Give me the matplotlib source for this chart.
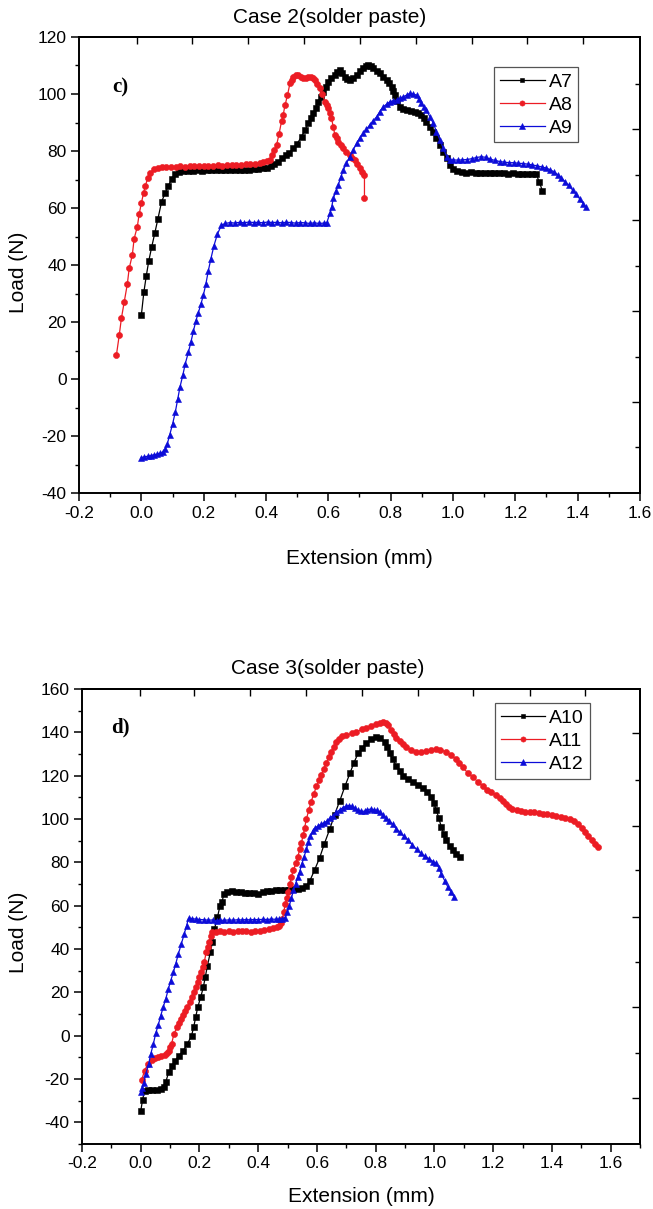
import matplotlib
matplotlib.use("Agg")
import matplotlib.pyplot as plt
from matplotlib.ticker import MultipleLocator, FormatStrFormatter, NullFormatter

plt.rcParams['font.family'] = ['Liberation Sans', 'DejaVu Sans']
plt.rcParams['axes.unicode_minus'] = False

# ---------------- Case 2 data ----------------
A7_x = [0.000, 0.008, 0.016, 0.024, 0.033, 0.043, 0.053, 0.065, 0.077, 0.087,
        0.097, 0.107, 0.120, 0.135, 0.150, 0.165, 0.180, 0.195, 0.210, 0.225,
        0.240, 0.255, 0.270, 0.285, 0.300, 0.315, 0.330, 0.345, 0.360, 0.375,
        0.390, 0.403, 0.415, 0.427, 0.440, 0.452, 0.463, 0.475, 0.488, 0.500,
        0.514, 0.525, 0.536, 0.544, 0.552, 0.560, 0.568, 0.576, 0.584, 0.592,
        0.600, 0.610, 0.621, 0.629, 0.637, 0.645, 0.653, 0.661, 0.669, 0.680,
        0.691, 0.701, 0.712, 0.720, 0.728, 0.736, 0.744, 0.755, 0.766, 0.776,
        0.787, 0.795, 0.803, 0.809, 0.814, 0.822, 0.830, 0.840, 0.851, 0.865,
        0.878, 0.889, 0.899, 0.907, 0.915, 0.926, 0.937, 0.947, 0.958, 0.969,
        0.980, 0.990, 1.000, 1.013, 1.028, 1.043, 1.058, 1.073, 1.088, 1.103,
        1.118, 1.133, 1.148, 1.163, 1.178, 1.193, 1.208, 1.223, 1.238, 1.253,
        1.267, 1.277, 1.287]
A7_y = [22.4, 30.4, 36.3, 41.5, 46.2, 51.1, 56.1, 62.2, 65.4, 67.8,
        70.1, 71.8, 72.7, 73.0, 73.1, 73.0, 73.2, 73.1, 73.3, 73.2,
        73.4, 73.2, 73.5, 73.3, 73.4, 73.3, 73.5, 73.4, 73.6, 73.7,
        73.9, 74.2, 74.6, 75.3, 76.3, 77.5, 78.5, 79.4, 80.9, 82.6,
        85.0, 87.3, 89.7, 91.5, 93.2, 95.2, 97.3, 99.0, 100.8, 102.6,
        104.3, 105.6, 106.7, 107.6, 108.4, 107.5, 106.1, 105.4, 104.9, 105.6,
        106.7, 107.9, 109.0, 109.7, 110.2, 109.7, 109.0, 108.2, 107.3, 106.1,
        104.9, 103.8, 102.6, 101.1, 99.6, 97.5, 95.5, 94.9, 94.4, 94.1,
        93.8, 93.3, 92.6, 91.5, 90.3, 88.5, 86.8, 84.5, 82.1, 79.8,
        77.4, 75.1, 73.8, 73.0, 72.6, 72.4, 72.5, 72.3, 72.4, 72.2,
        72.4, 72.3, 72.2, 72.3, 72.1, 72.2, 72.0, 72.1, 71.9, 71.8,
        71.8, 69.2, 66.0]

A8_x = [-0.080, -0.071, -0.064, -0.055, -0.045, -0.039, -0.029, -0.023, -0.013, -0.007,
        0.000, 0.007, 0.013, 0.020, 0.029, 0.040, 0.052, 0.065, 0.080, 0.095,
        0.110, 0.125, 0.140, 0.155, 0.170, 0.185, 0.200, 0.215, 0.230, 0.245,
        0.260, 0.275, 0.290, 0.305, 0.320, 0.335, 0.350, 0.365, 0.380, 0.392,
        0.403, 0.413, 0.420, 0.427, 0.434, 0.442, 0.450, 0.455, 0.461, 0.469,
        0.477, 0.483, 0.488, 0.496, 0.504, 0.512, 0.520, 0.528, 0.536, 0.546,
        0.552, 0.557, 0.565, 0.573, 0.581, 0.589, 0.595, 0.600, 0.605, 0.610,
        0.616, 0.621, 0.627, 0.632, 0.640, 0.648, 0.658, 0.669, 0.677, 0.685,
        0.693, 0.701, 0.709, 0.716, 0.716]
A8_y = [8.4, 15.3, 21.3, 27.0, 33.3, 38.8, 43.5, 49.3, 53.4, 57.8,
        61.7, 65.2, 67.8, 70.4, 72.4, 73.6, 74.2, 74.3, 74.4, 74.5,
        74.4, 74.6, 74.5, 74.7, 74.6, 74.8, 74.7, 74.9, 74.8, 75.0,
        74.9, 75.1, 75.0, 75.2, 75.1, 75.3, 75.3, 75.5, 75.8, 76.2,
        76.6, 76.8, 78.5, 80.3, 82.1, 86.0, 90.5, 92.6, 96.0, 99.6,
        103.8, 105.0, 106.1, 106.6, 106.7, 106.0, 105.5, 105.6, 106.0, 106.1,
        105.6, 105.0, 103.5, 102.0, 100.0, 97.3, 96.0, 95.0, 93.2, 91.5,
        88.5, 85.6, 84.4, 83.3, 82.1, 80.9, 79.7, 78.6, 77.7, 76.8,
        75.3, 73.9, 72.7, 71.6, 63.4]

A9_x = [0.000, 0.010, 0.020, 0.030, 0.040, 0.050, 0.060, 0.070, 0.077, 0.083,
        0.091, 0.100, 0.109, 0.117, 0.124, 0.133, 0.141, 0.151, 0.159, 0.167,
        0.175, 0.183, 0.191, 0.199, 0.207, 0.215, 0.223, 0.233, 0.244, 0.257,
        0.270, 0.285, 0.300, 0.315, 0.330, 0.345, 0.360, 0.375, 0.390, 0.405,
        0.420, 0.435, 0.450, 0.465, 0.480, 0.495, 0.510, 0.525, 0.540, 0.555,
        0.570, 0.585, 0.595, 0.605, 0.611, 0.616, 0.624, 0.632, 0.640, 0.648,
        0.658, 0.669, 0.680, 0.691, 0.701, 0.712, 0.722, 0.733, 0.744, 0.755,
        0.765, 0.776, 0.787, 0.798, 0.809, 0.819, 0.830, 0.840, 0.851, 0.862,
        0.872, 0.883, 0.891, 0.899, 0.907, 0.915, 0.926, 0.937, 0.947, 0.958,
        0.969, 0.980, 0.990,
        1.000, 1.015, 1.030, 1.045, 1.060, 1.075, 1.090, 1.105, 1.120, 1.135,
        1.150, 1.165, 1.180, 1.195, 1.210, 1.225, 1.240, 1.255, 1.270, 1.285,
        1.300, 1.312, 1.324, 1.336, 1.348, 1.360, 1.372, 1.384, 1.396, 1.408,
        1.418, 1.427]
A9_y = [-27.6, -27.3, -27.1, -26.9, -26.6, -26.4, -26.0, -25.6, -24.5, -22.9,
        -19.6, -15.9, -11.6, -6.9, -2.8, 1.3, 5.4, 9.4, 12.9, 16.8,
        20.4, 23.3, 26.2, 29.4, 33.3, 38.0, 42.1, 46.8, 50.8, 54.0,
        54.6, 54.9, 54.7, 55.0, 54.8, 55.1, 54.9, 55.0, 54.8, 55.1,
        54.9, 55.0, 54.8, 55.0, 54.9, 54.7, 54.9, 54.8, 54.6, 54.8,
        54.6, 54.7, 54.8, 58.1, 60.5, 63.4, 65.8, 68.1, 70.8, 73.3,
        75.7, 78.0, 80.4, 82.7, 84.5, 86.2, 87.6, 89.1, 90.6, 92.0,
        93.8, 95.5, 96.4, 97.3, 97.6, 97.9, 98.5, 99.0, 99.6, 100.2,
        100.0, 99.6, 98.2, 96.7, 95.5, 94.4, 92.0, 89.7, 86.8, 83.9,
        81.0, 78.0, 76.8,
        76.9, 76.8, 76.9, 77.0, 77.3, 77.7, 78.0, 77.8, 77.1, 76.7,
        76.3, 76.1, 75.9, 75.9, 75.7, 75.6, 75.4, 75.1, 74.8, 74.4,
        74.0, 73.4, 72.7, 71.7, 70.6, 69.2, 67.9, 66.3, 64.8, 63.0,
        61.5, 60.2]

# ---------------- Case 3 data ----------------
A10_x = [0.000, 0.006, 0.013, 0.025, 0.040, 0.055, 0.068, 0.078, 0.085, 0.095,
         0.106, 0.116, 0.130, 0.145, 0.159, 0.173, 0.180, 0.187, 0.194, 0.204,
         0.213, 0.220, 0.227, 0.237, 0.244, 0.251, 0.261, 0.270, 0.277, 0.283,
         0.295, 0.310, 0.325, 0.340, 0.355, 0.370, 0.385, 0.400, 0.415, 0.430,
         0.445, 0.460, 0.475, 0.490, 0.505, 0.520, 0.535, 0.550, 0.563, 0.576,
         0.592, 0.609, 0.625, 0.644, 0.660, 0.678, 0.695, 0.712, 0.726, 0.740,
         0.755, 0.768, 0.785, 0.802, 0.815, 0.831, 0.840, 0.848, 0.858, 0.870,
         0.882, 0.893, 0.910, 0.927, 0.944, 0.961, 0.975, 0.989, 0.998, 1.006,
         1.015, 1.023, 1.032, 1.040, 1.052, 1.063, 1.075, 1.086]
A10_y = [-34.9, -29.7, -25.4, -25.0, -24.9, -25.0, -24.7, -23.5, -21.5, -16.9,
         -14.2, -11.8, -9.2, -6.9, -3.8, 0.0, 3.8, 8.5, 13.1, 17.7,
         22.3, 27.2, 32.3, 38.5, 43.1, 49.2, 54.6, 60.0, 61.8, 65.5,
         66.3, 66.6, 66.2, 66.4, 65.9, 65.7, 66.0, 65.5, 66.1, 66.6,
         66.9, 67.0, 67.1, 67.3, 67.2, 67.5, 67.6, 68.0, 69.0, 71.5,
         76.5, 82.0, 88.5, 95.5, 102.0, 108.5, 115.0, 121.0, 126.0, 130.3,
         133.0, 135.0, 136.8, 138.0, 137.2, 135.7, 133.4, 130.5, 127.5, 124.5,
         122.0, 120.0, 118.3, 117.2, 115.8, 114.1, 112.5, 110.3, 107.5, 104.1,
         100.5, 96.4, 93.2, 90.3, 87.5, 85.6, 83.8, 82.5]

A11_x = [0.003, 0.013, 0.024, 0.038, 0.050, 0.060, 0.070, 0.081, 0.090, 0.095,
         0.100, 0.105, 0.113, 0.123, 0.130, 0.138, 0.145, 0.152, 0.159, 0.166,
         0.173, 0.180, 0.187, 0.194, 0.200, 0.206, 0.211, 0.216, 0.223, 0.228,
         0.233, 0.238, 0.243, 0.255, 0.270, 0.285, 0.300, 0.315, 0.330, 0.345,
         0.360, 0.375, 0.390, 0.405, 0.420, 0.435, 0.450, 0.463, 0.471, 0.477,
         0.482, 0.487, 0.492, 0.497, 0.502, 0.508, 0.513, 0.520, 0.528, 0.535,
         0.541, 0.547, 0.553, 0.558, 0.564, 0.572, 0.580, 0.589, 0.598, 0.606,
         0.615, 0.623, 0.632, 0.640, 0.648, 0.657, 0.666, 0.675, 0.685, 0.700,
         0.720, 0.734, 0.755, 0.768, 0.785, 0.802, 0.815, 0.826, 0.835, 0.843,
         0.852, 0.861, 0.870, 0.882, 0.893, 0.904, 0.920, 0.938, 0.955, 0.972,
         0.990, 1.006, 1.020, 1.040, 1.057, 1.074, 1.085, 1.097, 1.114, 1.131,
         1.150, 1.166, 1.180, 1.194, 1.208, 1.223, 1.234, 1.244, 1.255, 1.265,
         1.280, 1.294, 1.310, 1.325, 1.340, 1.355, 1.370, 1.385, 1.400, 1.415,
         1.430, 1.445, 1.460, 1.475, 1.490, 1.503, 1.513, 1.524, 1.535, 1.546,
         1.556]
A11_y = [-20.5, -16.2, -13.1, -11.2, -10.5, -10.0, -9.5, -8.8, -8.0, -6.9,
         -5.3, -3.8, 0.8, 3.8, 5.8, 7.7, 9.6, 11.5, 13.4, 15.4,
         17.7, 20.0, 22.3, 24.6, 26.9, 29.2, 31.5, 33.8, 38.5, 40.8,
         43.1, 45.9, 47.7, 48.0, 48.2, 47.9, 48.1, 48.0, 48.3, 48.1,
         48.2, 48.0, 48.3, 48.4, 48.6, 49.0, 49.5, 50.3, 50.8, 52.0,
         53.8, 57.0, 60.8, 63.5, 66.5, 70.0, 73.4, 76.5, 79.5, 82.5,
         86.0, 89.0, 92.5, 96.0, 100.0, 104.0, 108.0, 111.5, 115.0, 117.8,
         120.5, 123.2, 126.0, 128.5, 131.0, 133.3, 135.5, 137.0, 138.2, 138.8,
         139.5, 140.3, 141.5, 142.2, 143.0, 143.8, 144.2, 144.9, 144.4, 143.2,
         141.0, 139.3, 137.4, 135.8, 134.4, 133.4, 132.0, 131.0, 130.8, 131.2,
         131.8, 132.4, 132.0, 131.0, 129.5, 127.5, 125.8, 123.8, 121.2, 119.2,
         117.0, 115.0, 113.6, 112.4, 111.2, 109.8, 108.2, 106.8, 105.6, 104.8,
         104.0, 103.6, 103.4, 103.2, 103.0, 102.8, 102.4, 102.2, 101.8, 101.4,
         100.9, 100.4, 99.9, 99.0, 97.9, 96.0, 94.2, 92.2, 90.3, 88.5,
         87.2]

A12_x = [0.000, 0.005, 0.010, 0.017, 0.027, 0.034, 0.043, 0.051, 0.060, 0.068,
         0.077, 0.085, 0.094, 0.102, 0.111, 0.119, 0.128, 0.138, 0.148, 0.156,
         0.163, 0.175, 0.187, 0.200, 0.215, 0.230, 0.245, 0.258, 0.270, 0.285,
         0.300, 0.315, 0.330, 0.345, 0.360, 0.372, 0.385, 0.400, 0.415, 0.430,
         0.445, 0.460, 0.471, 0.482, 0.492, 0.499, 0.506, 0.513, 0.520, 0.527,
         0.534, 0.541, 0.548, 0.556, 0.564, 0.571, 0.578, 0.586, 0.593, 0.603,
         0.613, 0.623, 0.634, 0.645, 0.655, 0.666, 0.677, 0.688, 0.698, 0.708,
         0.719, 0.730, 0.740, 0.750, 0.762, 0.772, 0.783, 0.794, 0.804, 0.815,
         0.826, 0.836, 0.846, 0.858, 0.870, 0.882, 0.895, 0.911, 0.925, 0.939,
         0.953, 0.967, 0.982, 0.996, 1.006, 1.015, 1.024, 1.035, 1.045, 1.056,
         1.067]
A12_y = [-26.2, -24.0, -22.0, -17.7, -13.1, -8.5, -3.8, 1.1, 5.1, 9.2,
         13.4, 16.9, 21.5, 25.4, 29.2, 33.1, 37.7, 42.3, 46.9, 50.8,
         54.2, 54.0, 53.8, 53.6, 53.5, 53.3, 53.4, 53.1, 53.2, 53.3,
         53.4, 53.3, 53.5, 53.4, 53.6, 53.4, 53.6, 53.5, 53.7, 53.6,
         53.8, 53.7, 53.8, 54.0, 54.3, 57.0, 60.0, 63.5, 67.0, 70.0,
         73.0, 75.7, 79.0, 82.5, 86.0, 89.5, 92.0, 94.5, 95.8, 96.7,
         97.5, 98.2, 99.0, 100.6, 101.6, 103.0, 104.2, 105.2, 105.8, 106.2,
         105.9, 104.9, 104.0, 103.5, 103.6, 104.3, 104.6, 104.3, 104.0, 103.0,
         101.8, 100.3, 99.2, 97.5, 95.5, 93.9, 92.2, 90.3, 88.0, 86.0,
         84.2, 82.9, 81.6, 80.3, 79.5, 77.5, 74.5, 71.5, 68.8, 66.5,
         64.0]

x_ticks = [-0.2, 0.0, 0.2, 0.4, 0.6, 0.8, 1.0, 1.2, 1.4, 1.6]

BLACK = '#000000'
RED = '#ec1c24'
BLUE = '#0c0cd8'


def style_axes(ax, xlim, ylim, yticks, top_ticks, right_long, right_short):
    ax.set_xlim(*xlim)
    ax.set_ylim(*ylim)
    ax.set_xticks(x_ticks)
    ax.set_yticks(yticks)
    ax.xaxis.set_minor_locator(MultipleLocator(0.1))
    ax.yaxis.set_minor_locator(MultipleLocator(10))
    ax.xaxis.set_major_formatter(FormatStrFormatter('%.1f'))
    ax.yaxis.set_major_formatter(FormatStrFormatter('%d'))
    ax.tick_params(which='major', direction='out', length=6, width=1.1,
                   labelsize=12.5, top=False, right=False, pad=3)
    ax.tick_params(which='minor', direction='out', length=3, width=1.0,
                   top=False, right=False)
    for s in ax.spines.values():
        s.set_linewidth(1.4)
    sx = ax.secondary_xaxis('top')
    sx.set_xticks(top_ticks)
    sx.xaxis.set_major_formatter(NullFormatter())
    sx.tick_params(direction='in', length=5, width=1.0)
    sx.spines['top'].set_linewidth(1.4)
    sy = ax.secondary_yaxis('right')
    sy.set_yticks(right_long)
    sy.set_yticks(right_short, minor=True)
    sy.yaxis.set_major_formatter(NullFormatter())
    sy.yaxis.set_minor_formatter(NullFormatter())
    sy.tick_params(which='major', direction='in', length=6, width=1.0)
    sy.tick_params(which='minor', direction='in', length=3.5, width=1.0)
    sy.spines['right'].set_linewidth(1.4)


def plot_series(ax, x, y, color, marker, ms, label):
    ax.plot(x, y, color=color, lw=0.9, marker=marker, ms=ms,
            markeredgewidth=0.4, markeredgecolor=color, label=label)


fig = plt.figure(figsize=(6.53, 12.09), dpi=100)

# -------- top panel --------
ax1 = fig.add_axes([0.121, 0.5922, 0.859, 0.3772])
plot_series(ax1, A7_x, A7_y, BLACK, 's', 4.0, 'A7')
plot_series(ax1, A8_x, A8_y, RED, 'o', 4.4, 'A8')
plot_series(ax1, A9_x, A9_y, BLUE, '^', 4.8, 'A9')
style_axes(ax1, (-0.2, 1.6), (-40, 120), list(range(-40, 121, 20)),
           [-0.014, 0.163, 0.342, 0.522, 0.701, 0.881, 1.061, 1.237, 1.417],
           [87.6, 55.7, 23.9, -8.0],
           [103.6, 71.6, 39.8, 7.9, -23.9])
ax1.text(0.447, 1.0417, 'Case 2(solder paste)', transform=ax1.transAxes,
         ha='center', va='center', fontsize=15)
ax1.set_xlabel('Extension (mm)', fontsize=15, va='center')
ax1.xaxis.set_label_coords(0.5, -0.1425)
ax1.set_ylabel('Load (N)', fontsize=15, va='center')
ax1.yaxis.set_label_coords(-0.107, 0.485)
ax1.text(0.073, 0.89, 'c)', transform=ax1.transAxes, ha='center', va='center',
         fontsize=15, fontweight='bold', family=['Liberation Serif', 'DejaVu Serif'])
leg1 = ax1.legend(loc='upper left', bbox_to_anchor=(0.740, 0.934),
                  borderaxespad=0, fancybox=False, edgecolor='#555555',
                  framealpha=1, fontsize=14, handlelength=2.3, markerscale=0.85,
                  handletextpad=0.2, labelspacing=0.28, borderpad=0.3)
leg1.get_frame().set_linewidth(0.9)

# -------- bottom panel --------
ax2 = fig.add_axes([0.1256, 0.0538, 0.8545, 0.3763])
plot_series(ax2, A10_x, A10_y, BLACK, 's', 4.0, 'A10')
plot_series(ax2, A11_x, A11_y, RED, 'o', 4.4, 'A11')
plot_series(ax2, A12_x, A12_y, BLUE, '^', 4.8, 'A12')
style_axes(ax2, (-0.2, 1.7), (-50, 160), list(range(-40, 161, 20)),
           [-0.003, 0.181, 0.371, 0.562, 0.752, 0.943, 1.133, 1.324, 1.511],
           [139.7, 96.7, 54.7, 13.1, -28.9],
           [118.0, 76.4, 33.9, -8.1])
ax2.text(0.441, 1.046, 'Case 3(solder paste)', transform=ax2.transAxes,
         ha='center', va='center', fontsize=15)
ax2.set_xlabel('Extension (mm)', fontsize=15, va='center')
ax2.xaxis.set_label_coords(0.5, -0.1165)
ax2.set_ylabel('Load (N)', fontsize=15, va='center')
ax2.yaxis.set_label_coords(-0.113, 0.466)
ax2.text(0.068, 0.916, 'd)', transform=ax2.transAxes, ha='center', va='center',
         fontsize=15, fontweight='bold', family=['Liberation Serif', 'DejaVu Serif'])
leg2 = ax2.legend(loc='upper left', bbox_to_anchor=(0.740, 0.969),
                  borderaxespad=0, fancybox=False, edgecolor='#555555',
                  framealpha=1, fontsize=14, handlelength=2.3, markerscale=0.85,
                  handletextpad=0.2, labelspacing=0.28, borderpad=0.3)
leg2.get_frame().set_linewidth(0.9)

fig.savefig('out.png', dpi=100)
